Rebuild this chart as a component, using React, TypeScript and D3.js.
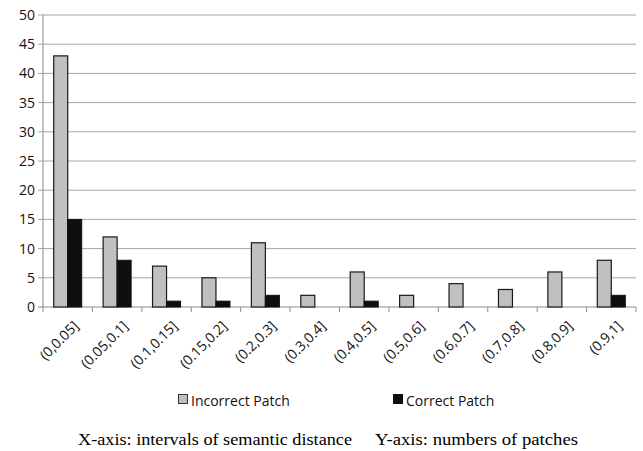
import React from "react";
import * as d3 from "d3";

const categories = ["(0,0.05]", "(0.05,0.1]", "(0.1,0.15]", "(0.15,0.2]", "(0.2,0.3]", "(0.3,0.4]", "(0.4,0.5]", "(0.5,0.6]", "(0.6,0.7]", "(0.7,0.8]", "(0.8,0.9]", "(0.9,1]"];
const incorrect = [43, 12, 7, 5, 11, 2, 6, 2, 4, 3, 6, 8];
const correct = [15, 8, 1, 1, 2, 0, 1, 0, 0, 0, 0, 2];
const yTicks = [0, 5, 10, 15, 20, 25, 30, 35, 40, 45, 50];
const seriesNames = ["Incorrect Patch", "Correct Patch"];

const W = 643, H = 451;
const left = 43, right = 636, top = 15, bottom = 307;
const font = "'Open Sans', sans-serif";
const txt = "#111";

export default function App() {
  const x = d3.scaleBand<string>().domain(categories).range([left, right]).paddingInner(0).paddingOuter(0);
  const y = d3.scaleLinear().domain([0, 50]).range([bottom, top]);
  const bw = x.bandwidth();
  const barW = 14;
  const off = (bw - 2 * barW) / 2;
  return (
    <svg width={W} height={H} style={{ position: "absolute", left: 0, top: 0, background: "#fff" }}>
      {yTicks.map((t) => (
        <g key={t}>
          <line x1={left - 5} x2={right} y1={y(t)} y2={y(t)} stroke={t === 0 ? "#8c8c8c" : "#a6a6a6"} strokeWidth={1} />
          <text x={left - 8} y={y(t)} dy="0.35em" textAnchor="end" fontFamily={font} fontSize={14} fill={txt}>{t}</text>
        </g>
      ))}
      <line x1={left} x2={left} y1={top} y2={bottom} stroke="#8c8c8c" />
      {categories.map((c, i) => (
        <line key={"t" + i} x1={x(c)!} x2={x(c)!} y1={bottom} y2={bottom + 5} stroke="#8c8c8c" />
      ))}
      <line x1={right} x2={right} y1={bottom} y2={bottom + 5} stroke="#8c8c8c" />
      {categories.map((c, i) => (
        <g key={"b" + i}>
          <rect x={x(c)! + off} y={y(incorrect[i])} width={barW} height={y(0) - y(incorrect[i])} fill="#c0c0c0" stroke="#1a1a1a" strokeWidth={1.2} />
          {correct[i] > 0 && (
            <rect x={x(c)! + off + barW} y={y(correct[i])} width={barW} height={y(0) - y(correct[i])} fill="#0f0f0f" stroke="#0f0f0f" strokeWidth={1} />
          )}
        </g>
      ))}
      {categories.map((c, i) => {
        const cx = x(c)! + bw / 2 + 5;
        const cy = bottom + 13;
        return (
          <text key={"l" + i} transform={`translate(${cx},${cy}) rotate(-45)`} textAnchor="end" dy="0.7em" fontFamily={font} fontSize={14} fill={txt}>{c}</text>
        );
      })}
      <rect x={178.5} y={394.5} width={9} height={9} fill="#c0c0c0" stroke="#333" />
      <text x={191} y={406} fontFamily={font} fontSize={14} fill={txt}>{seriesNames[0]}</text>
      <rect x={393.5} y={394.5} width={9} height={9} fill="#0f0f0f" stroke="#0f0f0f" />
      <text x={406} y={406} fontFamily={font} fontSize={14} fill={txt}>{seriesNames[1]}</text>
      <text x={78} y={445} fontFamily="'Liberation Serif', serif" fontSize={16} textLength={274} lengthAdjust="spacingAndGlyphs" fill="#000">X-axis: intervals of semantic distance</text>
      <text x={375} y={445} fontFamily="'Liberation Serif', serif" fontSize={16} textLength={203} lengthAdjust="spacingAndGlyphs" fill="#000">Y-axis: numbers of patches</text>
    </svg>
  );
}
